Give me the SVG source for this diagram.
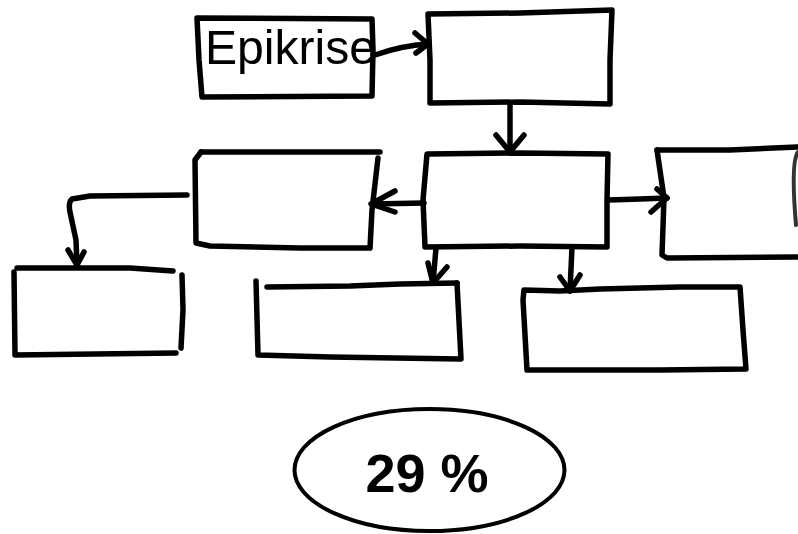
<svg xmlns="http://www.w3.org/2000/svg" width="798" height="534" viewBox="0 0 798 534">
<style>
.s{fill:none;stroke:#000;stroke-width:5.5;stroke-linecap:round;stroke-linejoin:round}
.lbl{font-family:"Liberation Sans",Arial,sans-serif;fill:#000}
</style>
<rect width="798" height="534" fill="#fff"/>
<g id="node-epikrise">
<path class="s" d="M197,18 L372,19 L373,50 L372,96 L202,97 L199,60 Z"/>
<text class="lbl" x="205" y="64" font-size="48" textLength="171" lengthAdjust="spacingAndGlyphs">Epikrise</text>
</g>
<g id="node-top">
<path class="s" d="M428,14 L520,13 L612,10 L610,60 L610,104 L520,102 L430,103 L430,60 Z"/>
</g>
<g id="node-middle">
<path class="s" d="M427,154 L520,153 L608,154 L607,200 L607,247 L520,246 L425,247 L423,200 Z"/>
</g>
<g id="node-left-middle">
<path class="s" d="M201,152 L380,152"/>
<path class="s" d="M201,152 L195,160 L196,243 L210,246 L300,248 L370,248 L372,210 L378,158"/>
</g>
<g id="node-left-lower">
<path class="s" d="M17,268 L130,268 L173,271"/>
<path class="s" d="M14,272 L15,355 L176,353"/>
<path class="s" d="M182,275 L183,310 L181,348"/>
</g>
<g id="node-center-lower">
<path class="s" d="M256,281 L258,355 L330,357 L461,359 L457,283"/>
<path class="s" d="M267,287 L350,286 L400,284 L457,283"/>
</g>
<g id="node-right-lower">
<path class="s" d="M524,290 L560,291 L600,289 L680,287 L740,287 L743,330 L746,369 L660,370 L527,370 L523,300 Z"/>
</g>
<g id="node-right">
<path class="s" d="M657,150 L730,150 L797,147"/>
<path class="s" d="M657,150 L664,198 L662,255 L667,258 L798,257"/>
<path d="M798,152 C792,160 793,190 796,225" fill="none" stroke="#333" stroke-width="4" stroke-linecap="round"/>
</g>
<g id="connectors">
<path class="s" d="M375,55 C392,49 410,45 428,44"/>
<path class="s" d="M415,33 L428,44 L416,53"/>
<path class="s" d="M510,104 L510,152"/>
<path class="s" d="M496,135 L510,152 L524,135"/>
<path class="s" d="M424,203 L372,204"/>
<path class="s" d="M395,191 L371,204 L395,212"/>
<path class="s" d="M187,195 L90,196 L72,199 Q68,202 70,212 L76,240 L77,265"/>
<path class="s" d="M68,250 L77,265 L84,252"/>
<path class="s" d="M436,248 L433,283"/>
<path class="s" d="M428,263 L433,283 L447,267"/>
<path class="s" d="M572,247 L570,291"/>
<path class="s" d="M560,277 L570,291 L580,275"/>
<path class="s" d="M608,200 L640,199 L667,198"/>
<path class="s" d="M657,189 L667,198 L651,212"/>
</g>
<g id="node-percent">
<ellipse cx="429.5" cy="470" rx="135" ry="61" fill="none" stroke="#000" stroke-width="4"/>
<text class="lbl" x="427" y="492" font-size="54" font-weight="bold" text-anchor="middle">29 %</text>
</g>
</svg>
